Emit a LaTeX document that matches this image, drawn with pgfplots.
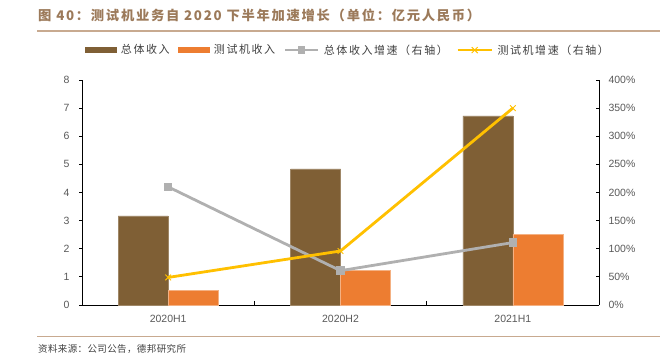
\documentclass[border=0pt]{standalone}
\usepackage{pgfplots}
\pgfplotsset{compat=1.18}
\usepackage{fontspec}
\setmainfont{Liberation Sans}
\newfontfamily\cjkt[LetterSpace=13]{Noto Sans CJK SC}
\newfontfamily\cjkleg[LetterSpace=14]{Noto Sans CJK SC}
\newfontfamily\cjkfoot[LetterSpace=4]{Noto Sans CJK SC}
\definecolor{cbrown}{HTML}{7F5F35}
\definecolor{corange}{HTML}{ED7D31}
\definecolor{cgray}{HTML}{B0B0B0}
\definecolor{cyellow}{HTML}{FFC000}
\definecolor{ctitle}{HTML}{9C7A5A}
\definecolor{crule}{HTML}{C8AA90}
\definecolor{ctick}{HTML}{595959}
\definecolor{ctext}{HTML}{404040}
\begin{document}
\begin{tikzpicture}
\useasboundingbox (0,0) rectangle (669pt,361pt);
\node[anchor=west, text=ctitle, inner sep=0pt, font=\cjkt\bfseries\fontsize{13.3}{15}\selectfont] at (38pt,346pt) {图 40：测试机业务自 2020 下半年加速增长（单位：亿元人民币）};
\draw[crule, line width=1.2pt] (37pt,330pt) -- (660pt,330pt);
\draw[crule, line width=1pt] (37pt,24pt) -- (660pt,24pt);
\node[anchor=west, text=ctext, inner sep=0pt, font=\cjkfoot\fontsize{9.5}{12}\selectfont] at (38pt,12pt) {资料来源：公司公告，德邦研究所};

\begin{axis}[at={(82pt,56pt)}, anchor=south west, scale only axis,
  width=517pt, height=225pt,
  xmin=-0.5, xmax=2.5, ymin=0, ymax=8,
  axis x line*=bottom, axis y line*=left,
  axis line style={black, line width=0.8pt},
  xtick={0,1,2}, xticklabels={2020H1,2020H2,2021H1},
  major x tick style={draw=none},
  minor xtick={0.5,1.5}, minor tick length=-4pt,
  minor x tick style={black, line width=0.8pt},
  ytick={0,1,...,8},
  tick align=outside, major tick length=3pt,
  tick style={black, line width=0.8pt},
  tick label style={text=ctick, font=\fontsize{10.5}{12}\selectfont},
  /pgf/number format/assume math mode=true,
  xticklabel style={yshift=-4pt},
  yticklabel style={xshift=-6pt},
  clip=false,
]
\addplot[ybar, bar width=50pt, bar shift=-25pt, fill=cbrown, draw=cbrown!75!white, line width=0.4pt] coordinates {(0,3.17) (1,4.84) (2,6.72)};
\addplot[ybar, bar width=50pt, bar shift=25pt, fill=corange, draw=corange!60!white, line width=0.4pt] coordinates {(0,0.53) (1,1.22) (2,2.51)};
\end{axis}

\begin{axis}[at={(82pt,56pt)}, anchor=south west, scale only axis,
  width=517pt, height=225pt,
  xmin=-0.5, xmax=2.5, ymin=0, ymax=400,
  axis x line=none, axis y line*=right,
  axis line style={black, line width=0.8pt},
  ytick={0,50,...,400},
  yticklabels={0\%,50\%,100\%,150\%,200\%,250\%,300\%,350\%,400\%},
  tick align=inside, major tick length=3pt,
  tick style={black, line width=0.8pt},
  tick label style={text=ctick, font=\fontsize{10.5}{12}\selectfont},
  yticklabel style={xshift=6pt},
  clip=false,
  legend columns=4,
  legend cell align=left,
  legend style={at={(0.514,1.133)}, anchor=center, draw=none, fill=none,
    font=\cjkleg\fontsize{11}{13}\selectfont, text=ctext,
    /tikz/every odd column/.append style={column sep=3pt},
    /tikz/every even column/.append style={column sep=7pt},
    nodes={inner sep=1.5pt}},
]
\addlegendimage{legend image code/.code={\fill[cbrown] (0pt,-2.5pt) rectangle (31pt,2.5pt);}}
\addlegendentry{总体收入}
\addlegendimage{legend image code/.code={\fill[corange] (0pt,-2.5pt) rectangle (31pt,2.5pt);}}
\addlegendentry{测试机收入}
\addplot[cgray, line width=2.8pt, mark=square*, mark size=3.8pt, mark options={fill=cgray, draw=cgray, line width=0pt},
  legend image code/.code={\draw[cgray, line width=2.8pt] (0pt,0pt) -- (33pt,0pt); \fill[cgray] (14pt,-2.6pt) rectangle (19pt,2.6pt);}]
  coordinates {(0,210) (1,61) (2,111)};
\addlegendentry{总体收入增速（右轴）}
\addplot[cyellow, line width=2.8pt, mark=x, mark size=4pt, mark options={line width=1pt},
  legend image code/.code={\draw[cyellow, line width=2.8pt] (0pt,0pt) -- (34pt,0pt); \draw[cyellow, line width=0.9pt] (14pt,-3pt) -- (20pt,3pt) (14pt,3pt) -- (20pt,-3pt);}]
  coordinates {(0,49) (1,96) (2,350)};
\addlegendentry{测试机增速（右轴）}
\end{axis}
\end{tikzpicture}
\end{document}
